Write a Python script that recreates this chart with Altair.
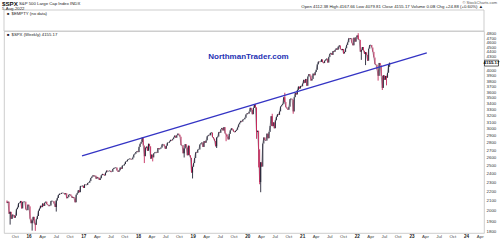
import altair as alt
import pandas as pd

# ---------------- data (weekly closes, $SPX) ----------------
c2015 = [2077.6, 2091.5, 1970.9, 1988.9, 1921.2, 1961.1, 1958.0, 1931.3, 1951.4, 2014.9, 2033.1,
         2075.2, 2079.4, 2099.2, 2023.0, 2089.2, 2090.1, 2091.7, 2012.4, 2005.6, 2061.0, 2043.9]
c2016 = [1922.0, 1880.3, 1906.9, 1940.2, 1880.0, 1864.8, 1917.8, 1948.1, 2000.0, 2022.2, 2049.6, 2035.9,
         2072.8, 2047.6, 2080.7, 2091.6, 2065.3, 2057.1, 2046.6, 2052.3, 2099.1, 2099.1, 2096.1, 2071.2,
         2037.4, 2103.0, 2129.9, 2161.7, 2175.0, 2173.6, 2182.9, 2184.1, 2183.9, 2169.0, 2180.0, 2127.8,
         2139.2, 2164.7, 2168.3, 2153.7, 2133.0, 2141.2, 2126.4, 2085.2, 2164.5, 2181.9, 2213.4, 2192.0,
         2259.5, 2258.1, 2263.8, 2238.8]
c2017 = [2277.0, 2274.6, 2271.3, 2294.7, 2297.4, 2316.1, 2351.2, 2367.3, 2383.1, 2372.6, 2378.3, 2344.0,
         2362.7, 2355.5, 2329.0, 2348.7, 2384.2, 2399.3, 2390.9, 2381.7, 2415.8, 2439.1, 2431.8, 2433.2,
         2438.3, 2423.4, 2425.2, 2459.3, 2472.5, 2472.1, 2476.8, 2441.3, 2425.6, 2443.1, 2476.6, 2461.4,
         2500.2, 2502.2, 2519.4, 2549.3, 2553.2, 2575.2, 2581.1, 2587.8, 2582.3, 2578.9, 2602.4, 2642.2,
         2651.5, 2675.8, 2683.3, 2673.6]
c2018 = [2743.2, 2786.2, 2810.3, 2872.9, 2762.1, 2619.6, 2732.2, 2747.3, 2691.3, 2786.6, 2752.0, 2588.3,
         2640.9, 2604.5, 2656.3, 2670.1, 2669.9, 2663.4, 2727.7, 2713.0, 2721.3, 2734.6, 2779.0, 2779.7,
         2754.9, 2718.4, 2759.8, 2801.3, 2801.8, 2818.8, 2840.4, 2833.3, 2850.1, 2874.7, 2901.5, 2871.7,
         2905.0, 2929.7, 2914.0, 2885.6, 2767.1, 2767.8, 2658.7, 2723.1, 2781.0, 2736.3, 2632.6, 2760.2,
         2633.1, 2600.0, 2416.6, 2485.7]
c2019 = [2531.9, 2596.3, 2670.7, 2664.8, 2706.5, 2707.9, 2775.6, 2792.7, 2803.7, 2743.1, 2822.5, 2800.7,
         2834.4, 2892.7, 2907.4, 2905.0, 2939.9, 2945.6, 2881.4, 2859.5, 2826.1, 2752.1, 2873.3, 2887.0,
         2950.5, 2941.8, 2990.4, 3013.8, 2976.6, 3025.9, 2932.1, 2918.7, 2888.7, 2847.1, 2926.5, 2978.7,
         3007.4, 2992.1, 2961.8, 2952.0, 2970.3, 2986.2, 3022.6, 3066.9, 3093.1, 3120.5, 3110.3, 3141.0,
         3145.9, 3168.8, 3221.2, 3240.0]
c2020 = [3234.9, 3265.4, 3329.6, 3295.5, 3225.5, 3327.7, 3380.2, 3337.8, 2954.2, 2972.4, 2711.0, 2304.9,
         2541.5, 2488.7, 2789.8, 2874.6, 2836.7, 2830.7, 2929.8, 2863.7, 2955.5, 3044.3, 3193.9, 3041.3,
         3097.7, 3009.1, 3130.0, 3185.0, 3224.7, 3215.6, 3271.1, 3351.3, 3372.9, 3397.2, 3508.0, 3427.0,
         3341.0, 3319.5, 3298.5, 3348.4, 3477.1, 3483.8, 3465.4, 3270.0, 3509.4, 3585.2, 3557.5, 3638.4,
         3699.1, 3663.5, 3709.4, 3703.1, 3756.1]
c2021 = [3824.7, 3768.3, 3841.5, 3714.2, 3886.8, 3934.8, 3906.7, 3811.2, 3841.9, 3943.3, 3913.1, 3974.5,
         4019.9, 4128.8, 4185.5, 4180.2, 4181.2, 4232.6, 4173.9, 4155.9, 4204.1, 4229.9, 4247.4, 4166.5,
         4280.7, 4352.3, 4369.6, 4327.2, 4411.8, 4395.3, 4436.5, 4468.0, 4441.7, 4509.4, 4535.4, 4458.6,
         4433.0, 4455.5, 4357.0, 4391.3, 4471.4, 4544.9, 4605.4, 4697.5, 4682.9, 4698.0, 4594.6, 4538.4,
         4712.0, 4620.6, 4725.8, 4766.2]
c2022 = [4677.0, 4662.9, 4397.9, 4431.9, 4500.5, 4418.6, 4348.9, 4384.7, 4328.9, 4204.3, 4463.1, 4543.1,
         4545.9, 4488.3, 4392.6, 4271.8, 4131.9, 4123.3, 4023.9, 3901.4, 4158.2, 4108.5, 3900.9, 3674.8,
         3911.7, 3825.3, 3899.4, 3863.2, 3961.6, 4130.3, 4155.17]
first_open = 2103.8

# notable intraweek extremes (week ending date, price)
wick_dates = ["2015-08-28", "2016-01-22", "2016-02-12", "2016-07-01", "2018-02-09", "2018-04-06",
              "2018-11-02", "2018-12-28", "2019-06-07", "2019-08-09", "2020-02-21", "2020-02-28",
              "2020-03-13", "2020-03-20", "2020-03-27", "2020-06-12", "2020-09-04", "2020-10-30",
              "2022-01-07", "2022-01-28", "2022-02-25", "2022-05-20", "2022-06-17", "2022-07-15",
              "2022-08-05", "2022-08-05"]
wick_values = [1867.0, 1812.3, 1810.1, 1991.7, 2532.7, 2553.8,
               2603.5, 2346.6, 2728.8, 2822.1, 3393.5, 2855.8,
               2478.9, 2280.5, 2191.9, 3233.1, 3588.1, 3233.9,
               4818.6, 4222.6, 4114.7, 3810.3, 3636.9, 3721.6,
               4167.7, 4079.8]

# trend line (two anchor points)
trend_dates = ["2016-12-20", "2023-04-10"]
trend_values = [2626.0, 4369.0]

# right axis tick values
y_ticks = [1800, 1900, 2000, 2100, 2200, 2300, 2400, 2500, 2600, 2700, 2800, 2900, 3000, 3100,
           3200, 3300, 3400, 3500, 3600, 3700, 3800, 3900, 4000, 4300, 4400, 4500, 4600, 4700, 4800]
last_price = 4155.17

# x tick labels
month_names = {1: None, 4: "Apr", 7: "Jul", 10: "Oct"}
tick_dates, tick_text, tick_bold = [], [], []
for yr in range(2015, 2025):
    for m in (1, 4, 7, 10):
        if (yr == 2015 and m < 10) or (yr == 2024 and m > 4):
            continue
        tick_dates.append(f"{yr}-{m:02d}-01")
        if m == 1:
            tick_text.append(f"{yr % 100:02d}")
            tick_bold.append(True)
        else:
            tick_text.append(month_names[m])
            tick_bold.append(False)

# ---------------- frames ----------------
closes = c2015 + c2016 + c2017 + c2018 + c2019 + c2020 + c2021 + c2022
dates = pd.date_range("2015-08-07", periods=len(closes), freq="W-FRI")
df = pd.DataFrame({"date": dates, "close": closes})
df["open"] = [first_open] + closes[:-1]
df["dir"] = ["up" if c >= o else "down" for c, o in zip(df["close"], df["open"])]

wk = pd.DataFrame({"date": pd.to_datetime(wick_dates), "ext": wick_values})
wk = wk.merge(df[["date", "close", "dir"]], on="date", how="left")

trend = pd.DataFrame({"date": pd.to_datetime(trend_dates), "close": trend_values})
ticks = pd.DataFrame({"date": pd.to_datetime(tick_dates), "t": tick_text, "bold": tick_bold})

FONT = "Liberation Sans"
W, H = 480, 202

xscale = alt.Scale(domain=[alt.DateTime(year=2015, month=7, date=18),
                           alt.DateTime(year=2024, month=4, date=26)])
yscale = alt.Scale(type="log", domain=[1791.1, 4871.8], nice=False)
color = alt.Color("dir:N", scale=alt.Scale(domain=["up", "down"], range=["#262638", "#c42a5c"]),
                  legend=None)

X = alt.X("date:T", scale=xscale, axis=None)

base_line = alt.Chart(df).mark_line(color="#3a3a4a", strokeWidth=0.55).encode(
    x=X,
    y=alt.Y("close:Q", scale=yscale,
            axis=alt.Axis(orient="right", values=y_ticks, format="d", labelFontSize=4.4,
                          labelFont=FONT, labelColor="#333", ticks=False, domain=False,
                          grid=False, labelPadding=2, labelOverlap=False, labelBound=False,
                          title=None)),
)

bars = alt.Chart(df).mark_rule(strokeWidth=1.0).encode(
    x=X, y=alt.Y("open:Q", scale=yscale), y2="close:Q", color=color
)

wicks = alt.Chart(wk).mark_rule(strokeWidth=0.9).encode(
    x=X, y=alt.Y("ext:Q", scale=yscale), y2="close:Q", color=color
)

trend_line = alt.Chart(trend).mark_line(color="#3434c4", strokeWidth=1.3).encode(
    x=X, y=alt.Y("close:Q", scale=yscale)
)

xlab_m = alt.Chart(ticks[~ticks["bold"]]).mark_text(
    fontSize=4.4, font=FONT, color="#444", baseline="middle"
).encode(x=X, y=alt.value(H + 3.6), text="t:N")
xlab_y = alt.Chart(ticks[ticks["bold"]]).mark_text(
    fontSize=4.6, font=FONT, color="#222", fontWeight="bold", baseline="middle"
).encode(x=X, y=alt.value(H + 3.6), text="t:N")

# current price box on axis
lp = pd.DataFrame({"close": [last_price], "t": [f"{last_price:.2f}"]})
box = alt.Chart(lp).mark_point(
    shape="M-1,-0.42L1,-0.42L1,0.42L-1,0.42Z", size=196, filled=True, fill="white",
    stroke="#222", strokeWidth=0.7, opacity=1
).encode(x=alt.value(W + 7.5), y=alt.Y("close:Q", scale=yscale))
box_txt = alt.Chart(lp).mark_text(
    fontSize=4.4, font=FONT, color="#000", fontWeight="bold", align="center", baseline="middle"
).encode(x=alt.value(W + 7.5), y=alt.Y("close:Q", scale=yscale), text="t:N")

# top (empty) indicator panel frame
top_panel = alt.Chart(pd.DataFrame({"a": [0]})).mark_rect(
    fill="white", stroke="#c0c0c0", strokeWidth=0.8
).encode(x=alt.value(0), x2=alt.value(W), y=alt.value(-21), y2=alt.value(0))


def txt(s, x, y, size=4.4, weight="normal", align="left", color="#222"):
    return alt.Chart(pd.DataFrame({"t": [s]})).mark_text(
        fontSize=size, font=FONT, fontWeight=weight, align=align, baseline="middle", color=color
    ).encode(x=alt.value(x), y=alt.value(y), text="t:N")


header = [
    txt("$SPX", -2, -27.0, size=6.2, weight="bold", color="#111"),
    txt("S&P 500 Large Cap Index INDX", 15, -27.0, size=4.3),
    txt("5-Aug-2022", -2, -22.4, size=4.3),
    txt("© StockCharts.com", 493, -28.3, size=4.0, align="right", color="#555"),
    txt("Open 4112.38  High 4167.66  Low 4079.81  Close 4155.17  Volume 0.0B  Chg +24.88 (+0.60%) ▲",
        479, -23.6, size=4.3, align="right"),
    txt("■", 3, -17.2, size=4.0, color="#333"),
    txt("$EMPTY (no data)", 7.5, -17.2, size=4.3),
    txt("■", 3, 3.6, size=4.0, color="#1e1e33"),
    txt("$SPX (Weekly) 4155.17", 7.5, 3.6, size=4.3),
    txt("NorthmanTrader.com", 244.5, 25.7, size=8.0, weight="bold", align="center", color="#1f33b4"),
]

chart = alt.layer(
    top_panel, base_line, bars, wicks, trend_line, xlab_m, xlab_y, box, box_txt, *header
).properties(
    width=W, height=H,
    padding={"left": 4, "top": 31, "right": 16, "bottom": 8},
    autosize=alt.AutoSizeParams(type="none"),
    background="white",
).configure_view(stroke="#c0c0c0", strokeWidth=0.8)

chart.save("out.html", embed_options={"renderer": "svg", "actions": False})
